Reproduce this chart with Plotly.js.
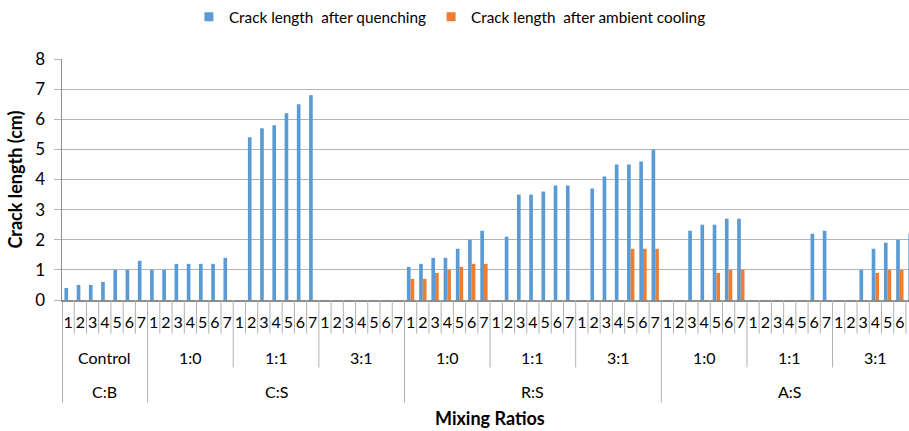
<!DOCTYPE html>
<html><head><meta charset="utf-8">
<script src="https://cdn.plot.ly/plotly-3.0.1.min.js"></script>
<style>html,body{margin:0;padding:0;background:#fff}#chart{width:909px;height:431px}</style>
</head><body><div id="chart"></div>
<script>
// ---- data ----
const days = ['1','2','3','4','5','6','7'];
const groupNames = ['C:B','C:S','R:S','A:S'];
const blockRatios = ['Control','1:0','1:1','3:1','1:0','1:1','3:1','1:0','1:1','3:1'];
const blockGroup  = [0,1,1,1,2,2,2,3,3,3];
const seriesNames = ['Crack length  after quenching','Crack length  after ambient cooling'];
const seriesColors = ['#5B9BD5','#ED7D31'];
const quenchCB_Control = [0.4,0.5,0.5,0.6,1.0,1.0,1.3];
const quenchCS_10 = [1.0,1.0,1.2,1.2,1.2,1.2,1.4];
const quenchCS_11 = [null,5.4,5.7,5.8,6.2,6.5,6.8];
const quenchCS_31 = [null,null,null,null,null,null,null];
const quenchRS_10 = [1.1,1.2,1.4,1.4,1.7,2.0,2.3];
const quenchRS_11 = [null,2.1,3.5,3.5,3.6,3.8,3.8];
const quenchRS_31 = [null,3.7,4.1,4.5,4.5,4.6,5.0];
const quenchAS_10 = [null,null,2.3,2.5,2.5,2.7,2.7];
const quenchAS_11 = [null,null,null,null,null,2.2,2.3];
const quenchAS_31 = [null,null,1.0,1.7,1.9,2.0,2.2];
const ambientCB_Control = [null,null,null,null,null,null,null];
const ambientCS_10 = [null,null,null,null,null,null,null];
const ambientCS_11 = [null,null,null,null,null,null,null];
const ambientCS_31 = [null,null,null,null,null,null,null];
const ambientRS_10 = [0.7,0.7,0.9,1.0,1.1,1.2,1.2];
const ambientRS_11 = [null,null,null,null,null,null,null];
const ambientRS_31 = [null,null,null,null,1.7,1.7,1.7];
const ambientAS_10 = [null,null,null,null,0.9,1.0,1.0];
const ambientAS_11 = [null,null,null,null,null,null,null];
const ambientAS_31 = [null,null,null,0.9,1.0,1.0,null];

const quench = [quenchCB_Control,quenchCS_10,quenchCS_11,quenchCS_31,quenchRS_10,quenchRS_11,quenchRS_31,quenchAS_10,quenchAS_11,quenchAS_31];
const ambient = [ambientCB_Control,ambientCS_10,ambientCS_11,ambientCS_31,ambientRS_10,ambientRS_11,ambientRS_31,ambientAS_10,ambientAS_11,ambientAS_31];

// ---- build ----
const nB = blockRatios.length, nD = days.length;
const xs = [], yq = [], ya = [], tickvals = [], ticktext = [];
for (let b = 0; b < nB; b++) for (let d = 0; d < nD; d++) {
  const i = b*nD + d;
  xs.push(i); yq.push(quench[b][d]); ya.push(ambient[b][d]);
  tickvals.push(i); ticktext.push(days[d]);
}
const font = 'Lato, "Open Sans", sans-serif';
const axisCol = '#8c8c8c';
const gridCol = '#b4b4b4';
const sepCol = '#b0b0b0';
const shapes = [], annotations = [];
for (let k = 0; k <= nB*nD; k++) {
  let depth = -0.14;
  if (k % nD === 0) {
    const b = k / nD;
    const newGroup = (b === 0 || b === nB || blockGroup[b] !== blockGroup[b-1]);
    depth = newGroup ? -0.425 : -0.28;
  }
  shapes.push({type:'line', xref:'x', yref:'paper', x0:k-0.5, x1:k-0.5, y0:0, y1:depth,
    line:{color:k === 0 ? axisCol : sepCol, width:k === 0 ? 1.5 : 1}});
}
for (let b = 0; b < nB; b++) {
  annotations.push({xref:'x', yref:'paper', x:b*nD+(nD-1)/2, y:-0.239, text:blockRatios[b],
    showarrow:false, yanchor:'middle', font:{family:font, size:16, color:'#000'}});
}
for (let g = 0; g < groupNames.length; g++) {
  const bl = blockGroup.map((v,i)=>v===g?i:-1).filter(i=>i>=0);
  const c = ((bl[0]*nD) + (bl[bl.length-1]*nD + nD - 1)) / 2;
  annotations.push({xref:'x', yref:'paper', x:c, y:-0.379, text:groupNames[g],
    showarrow:false, yanchor:'middle', font:{family:font, size:16, color:'#000'}});
}
annotations.push({xref:'paper', yref:'paper', x:0.505, y:-0.49, text:'<b>Mixing Ratios</b>',
  showarrow:false, yanchor:'middle', font:{family:font, size:18, color:'#000'}});

const traces = [
  {type:'bar', name:seriesNames[0], x:xs, y:yq, marker:{color:seriesColors[0]}, showlegend:false},
  {type:'bar', name:seriesNames[1], x:xs, y:ya, marker:{color:seriesColors[1]}, showlegend:false},
  // legend keys (small squares, like the reference)
  {type:'scatter', mode:'markers', name:seriesNames[0], x:[null], y:[null],
    marker:{symbol:'square', size:9, color:seriesColors[0]}},
  {type:'scatter', mode:'markers', name:seriesNames[1], x:[null], y:[null],
    marker:{symbol:'square', size:9, color:seriesColors[1]}}
];
const layout = {
  width:909, height:431,
  margin:{l:62, r:0, t:57, b:131},
  paper_bgcolor:'#fff', plot_bgcolor:'#fff',
  barmode:'group', bargap:0.4, bargroupgap:0,
  font:{family:font, size:16, color:'#000'},
  showlegend:true,
  legend:{orientation:'h', x:0.458, xanchor:'center', y:1.175, yanchor:'middle',
    font:{family:font, size:15.3, color:'#000'}, itemwidth:30},
  xaxis:{type:'linear', range:[-0.5, 68.75], tickvals:tickvals, ticktext:ticktext,
    showgrid:false, zeroline:false, showline:true, linecolor:axisCol, linewidth:1.5,
    ticks:'', tickfont:{family:font, size:16, color:'#000'}, ticklabelstandoff:7, fixedrange:true},
  yaxis:{range:[0,8], dtick:1, showgrid:true, gridcolor:gridCol, gridwidth:1,
    zeroline:false, showline:true, linecolor:axisCol, linewidth:1.5,
    ticks:'outside', ticklen:7, tickcolor:gridCol, tickwidth:1,
    ticklabelstandoff:5, tickfont:{family:font, size:17, color:'#000'},
    title:{text:'<b>Crack length (cm)</b>', font:{family:font, size:18, color:'#000'}, standoff:8}},
  shapes:shapes, annotations:annotations
};
Plotly.newPlot('chart', traces, layout, {staticPlot:true, displayModeBar:false});
</script></body></html>
